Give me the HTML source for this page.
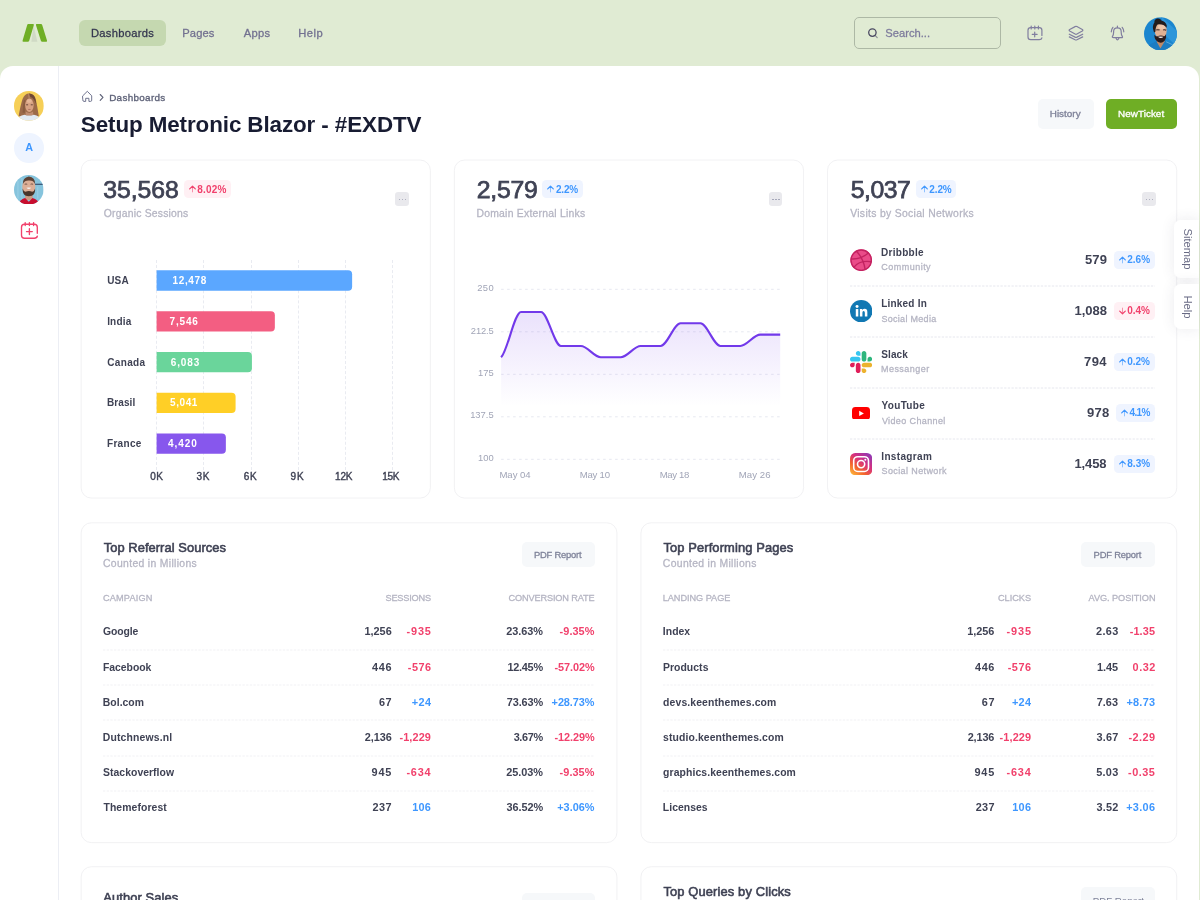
<!DOCTYPE html>
<html lang="en">
<head>
<meta charset="utf-8">
<title>Setup Metronic Blazor</title>
<style>
*{box-sizing:border-box;margin:0;padding:0}
html,body{width:1200px;height:900px;overflow:hidden}
body{background:#e0ebd3;font-family:"Liberation Sans",sans-serif;color:#3f4254;position:relative;-webkit-font-smoothing:antialiased}
.wrap{position:absolute;left:0;top:0;width:1200px;height:900px;overflow:hidden;will-change:transform}
.abs,.t{position:absolute;white-space:nowrap;line-height:1}
.t{font-size:10.4px}
.b{font-weight:700}
.m{-webkit-text-stroke:.28px currentColor}
.m2{-webkit-text-stroke:.38px currentColor}
.s3{font-weight:400;-webkit-text-stroke:.58px currentColor}
.s2{font-weight:400;-webkit-text-stroke:.33px currentColor}
.sb{font-weight:400;-webkit-text-stroke:.75px currentColor}
.panel{position:absolute;left:0;top:66px;width:1199px;height:840px;background:#fff;border-radius:13px 13px 0 0}
.sideline{position:absolute;left:58px;top:66px;width:1px;height:840px;background:#eceef4}
.card{position:absolute;background:#fff;border:1px solid #f3f3f5;border-radius:10.4px}
.pill{position:absolute;left:79px;top:20px;width:86.5px;height:26px;border-radius:6px;background:#c5d8b0}
.nav{font-size:11.2px;color:#77759b;top:27.5px}
.search{position:absolute;left:854px;top:17px;width:147px;height:32px;border:1px solid #adb8a5;border-radius:5px}
.btn{position:absolute;border-radius:5px;background:#f6f8fa}
.badge{position:absolute;border-radius:4.5px;height:17px}
.bl{background:#eff4ff;color:#3e97ff}
.rd{background:#fff0f4;color:#f1416c}
.dots{position:absolute;width:13.8px;height:14.4px;border-radius:3.2px;background:#e9e9ed}
.dots i{position:absolute;top:6.8px;width:1.4px;height:1.4px;border-radius:50%;background:#9d9fb3}
.g4{color:#b5b5c3}
.g5{color:#a1a5b7}
.g6{color:#7e8299}
.g8{color:#3f4254}
.red{color:#f1416c}
.blue{color:#3e97ff}
.dash{position:absolute;height:1px;overflow:visible}
</style>
</head>

<body>
<div class="wrap">


<!-- ============ HEADER ============ -->
<svg class="abs" style="left:20px;top:22px" width="30" height="22" viewBox="20 22 30 22">
  <path d="M33.5 25.4 L37.4 41.8 L31.4 41.8 Z" fill="#d0dac5"/>
  <path d="M28.3 24 H33 Q34.2 24 33.8 25.2 L29.2 40.8 Q28.9 41.8 27.8 41.8 H23.4 Q22.2 41.8 22.6 40.6 L27.2 24.9 Q27.4 24 28.3 24 Z" fill="#6fae25"/>
  <path d="M36.8 24 H41 Q41.9 24 42.2 24.9 L47 40.6 Q47.4 41.8 46.2 41.8 H42.2 Q41.2 41.8 40.9 40.8 L36 25.2 Q35.6 24 36.8 24 Z" fill="#6fae25"/>
</svg>

<div class="pill"></div>

<div class="search"></div>
<svg class="abs" style="left:866px;top:26px" width="14" height="14" viewBox="0 0 14 14" fill="none" stroke="#4b4a63" stroke-width="1.3" stroke-linecap="round"><circle cx="6.4" cy="6.6" r="3.7"/><path d="M9.3 9.6 L11.2 11.6" opacity=".55"/></svg>

<!-- ============ PANEL ============ -->
<div class="panel"></div>
<div class="sideline"></div>

<!-- header icons -->
<svg class="abs" style="left:1025px;top:23px" width="20" height="20" viewBox="1025 23 20 20" fill="none" stroke="#807e9f" stroke-width="1.2" stroke-linecap="round" stroke-linejoin="round">
  <path d="M1041.9 35.4 V30.3 Q1041.9 27.6 1039.2 27.6 H1030.7 Q1028 27.6 1028 30.3 V37 Q1028 39.7 1030.7 39.7 H1039.2 Q1041.6 39.7 1041.9 37.9"/>
  <path d="M1031.2 26.1 V28.9 M1034.8 26.1 V28.9 M1038.4 26.1 V28.9"/>
  <path d="M1032.3 34.4 H1037.1 M1034.7 32 V36.8"/>
</svg>
<svg class="abs" style="left:1066px;top:23px" width="20" height="20" viewBox="1066 23 20 20" fill="none" stroke="#807e9f" stroke-width="1.2" stroke-linecap="round" stroke-linejoin="round">
  <path d="M1075.1 26.6 Q1076 26.1 1076.9 26.6 L1082.3 29.5 Q1083.4 30.3 1082.3 31.1 L1076.9 34.1 Q1076 34.6 1075.1 34.1 L1069.7 31.1 Q1068.6 30.3 1069.7 29.5 Z"/>
  <path d="M1069.3 34.2 L1075.1 37.1 Q1076 37.5 1076.9 37.1 L1082.7 34.2"/>
  <path d="M1069.3 36.9 L1075.1 39.8 Q1076 40.2 1076.9 39.8 L1082.7 36.9"/>
</svg>
<svg class="abs" style="left:1107px;top:23px" width="20" height="20" viewBox="1107 23 20 20" fill="none" stroke="#807e9f" stroke-width="1.2" stroke-linecap="round" stroke-linejoin="round">
  <path d="M1117.4 26.1 V27.6"/>
  <path d="M1113.6 37.7 H1121.6 Q1122.9 37.7 1122.4 36.6 Q1121.2 34.8 1121.2 32.6 V31.6 Q1121.2 27.9 1117.4 27.9 Q1113.6 27.9 1113.6 31.6 V32.6 Q1113.6 34.8 1112.4 36.6 Q1111.9 37.7 1113.6 37.7 Z"/>
  <path d="M1116.1 38.2 Q1117.4 41.4 1118.8 38.2"/>
  <path d="M1112.9 27.3 Q1111.3 29.2 1111.3 31.8 M1122.2 27.3 Q1123.8 29.2 1123.8 31.8"/>
</svg>
<!-- header avatar -->
<svg class="abs" style="left:1144.1px;top:16.5px" width="33" height="33.4" viewBox="0 0 33 33">
  <defs><clipPath id="ca"><circle cx="16.5" cy="16.5" r="16.5"/></clipPath><filter id="fa" x="-10%" y="-10%" width="120%" height="120%"><feGaussianBlur stdDeviation="0.45"/></filter></defs>
  <g clip-path="url(#ca)">
    <rect width="33" height="33" fill="#1b86cf"/>
    <g filter="url(#fa)">
    <path d="M17 -1 L34 15 L34 30 L22 19 Z" fill="#2f96da"/>
    <path d="M1 33 Q3 27.5 9.5 25.5 L13 23.5 L16.4 29 L21 23 L25 25 Q31 27 33 33 Z" fill="#1a7cc2"/>
    <path d="M22 24.5 L30.5 28.5" stroke="#8fd0f0" stroke-width="0.7" opacity=".8"/>
    <path d="M12.4 21 L13 25 L16.4 31.2 L20.6 24.4 L20.4 20 Z" fill="#c08a68"/>
    <ellipse cx="16.7" cy="13.4" rx="6" ry="8" fill="#dfb194"/>
    <ellipse cx="17.6" cy="9.6" rx="3.6" ry="2.6" fill="#ecc6ab"/>
    <path d="M10 15.2 Q7.6 9 10.4 5.4 Q10 2.4 13 1.4 Q16.2 0.6 17.4 3.2 Q21.6 4.2 22.8 8.2 L22.6 10.6 Q19.6 6.6 13.6 7.2 Q11.4 9.4 11.4 14.6 Z" fill="#241a1f"/>
    <path d="M10.4 17.6 Q11.4 19.2 13 19.2 Q16.6 17.6 20.4 19 Q21.4 18.6 22 17 Q22.6 22 19.8 24.2 Q16.6 26.6 13.4 24.4 Q10.2 22 10.4 17.6 Z" fill="#2a1b1d"/>
    <path d="M13.8 19.6 Q16.8 18.8 19.6 19.6 Q16.8 22 13.8 19.6 Z" fill="#f4eeea"/>
    <path d="M12.2 12.9 Q13.8 12.1 15.6 12.9 M19.2 12.9 Q20.8 12.2 22.2 13.1" stroke="#3a2a2a" stroke-width="1.1" fill="none"/>
    </g>
  </g>
</svg>

<!-- ============ SIDEBAR ============ -->
<svg class="abs" style="left:14.1px;top:91.3px" width="29.8" height="29.8" viewBox="0 0 30 30">
  <defs><clipPath id="cb"><circle cx="15" cy="15" r="15"/></clipPath><filter id="fb" x="-10%" y="-10%" width="120%" height="120%"><feGaussianBlur stdDeviation="0.4"/></filter></defs>
  <g clip-path="url(#cb)">
    <rect width="30" height="30" fill="#f6cf57"/>
    <g filter="url(#fb)">
    <path d="M4.6 25.5 Q6.6 14 8.6 8 Q10.6 2.4 15.2 2.4 Q20.8 2.6 22 8.6 Q23.6 16 25 25.5 Z" fill="#9c6b4a"/>
    <path d="M15 2.6 Q20.6 2.8 21.6 8.6 L22.4 13 Q20 7 16.6 6 Q15.4 4.4 15 2.6 Z" fill="#6e4631"/>
    <path d="M10 9 Q9 14 8.6 22 L11 22 Q10.6 14 11.6 8.6 Z" fill="#8a5c40"/>
    <ellipse cx="15.5" cy="14.4" rx="4.2" ry="6.8" fill="#d8a283"/>
    <ellipse cx="15.4" cy="10" rx="2.6" ry="2" fill="#e6b697"/>
    <path d="M14.9 3 L15.3 8.4" stroke="#c89878" stroke-width="0.7"/>
    <path d="M12.2 13.9 H14.2 M16.9 13.9 H18.9" stroke="#5a3c30" stroke-width="0.9"/>
    <path d="M14.3 18.6 H16.7" stroke="#a86a5c" stroke-width="0.8"/>
    <path d="M11.8 20.6 Q15.4 23.6 19.2 20.6 L19.4 24.4 L11.6 24.4 Z" fill="#c08c70"/>
    <path d="M2.6 30 Q4.4 24.8 10.6 23.8 Q15.2 25.6 20 23.8 Q25.8 24.8 27.4 30 Z" fill="#e2eaf3"/>
    </g>
  </g>
</svg>
<div class="abs" style="left:14.2px;top:133px;width:29.6px;height:29.6px;border-radius:50%;background:#eef4ff"></div>
<div class="t b" id="sbA" style="left:25.2px;top:142px;font-size:10.8px;color:#3e97ff">A</div>
<svg class="abs" style="left:14.2px;top:174.5px" width="29.6" height="29.6" viewBox="0 0 30 30">
  <defs><clipPath id="cc"><circle cx="15" cy="15" r="15"/></clipPath><filter id="fc" x="-10%" y="-10%" width="120%" height="120%"><feGaussianBlur stdDeviation="0.4"/></filter></defs>
  <g clip-path="url(#cc)">
    <rect width="30" height="30" fill="#86c4dd"/>
    <g filter="url(#fc)">
    <rect x="21" y="8.8" width="9" height="1.3" fill="#3b5a7a"/>
    <path d="M4 6 V24 M8 3 V26 M24 12 V24" stroke="#9fd2e6" stroke-width="1.2" opacity=".7"/>
    <path d="M11.4 19 H18.8 L19 25.4 H11.2 Z" fill="#c99a82"/>
    <path d="M4.4 30 Q5.6 25 11.2 23.4 L15 27 L18.8 23.4 Q24.6 25 26 30 Z" fill="#c8102e"/>
    <ellipse cx="15" cy="12" rx="6.6" ry="8.4" fill="#dcae96"/>
    <path d="M9 9 Q8.6 2.6 15 1.4 Q21.6 2.4 21.4 9 Q19.6 5.4 15.2 5.6 Q10.8 5.4 9 9 Z" fill="#5d4335"/>
    <path d="M8.8 13.6 Q9.6 16.6 11.6 17 Q15 15.4 18.6 17 Q20.6 16.6 21.4 13.6 Q21.8 19.4 18 21 Q15 22 12 21 Q8.4 19.4 8.8 13.6 Z" fill="#4a362c"/>
    <path d="M12.6 13 Q15 12.2 17.4 13 Q15 15.4 12.6 13 Z" fill="#f7f2f0"/>
    <path d="M10.8 9.4 Q12.2 8.8 13.4 9.4 M16.8 9.4 Q18 8.8 19.4 9.4" stroke="#5a4034" stroke-width="0.8" fill="none"/>
    </g>
  </g>
</svg>
<svg class="abs" style="left:18px;top:219px" width="23" height="23" viewBox="18 219 23 23" fill="none" stroke="#f1416c" stroke-width="1.35" stroke-linecap="round" stroke-linejoin="round">
  <path d="M37.3 233.2 V227.2 Q37.3 224.2 34.3 224.2 H24.5 Q21.5 224.2 21.5 227.2 V235.2 Q21.5 238.2 24.5 238.2 H34.3 Q37 238.2 37.3 236.2"/>
  <path d="M25.2 222.6 V225.6 M29.4 222.6 V225.6 M33.6 222.6 V225.6"/>
  <path d="M26.5 231.6 H32.3 M29.4 228.7 V234.5"/>
</svg>

<!-- ============ PAGE HEAD ============ -->
<svg class="abs" style="left:80px;top:89px" width="14" height="15" viewBox="80 89 14 15" fill="none" stroke="#6f738e" stroke-width="1" stroke-linejoin="round" stroke-linecap="round">
  <path d="M82.8 95.8 L87.3 91.3 L91.7 95.8 V100.2 Q91.7 101.4 90.5 101.4 H88.9 V98.3 H85.7 V101.4 H84 Q82.8 101.4 82.8 100.2 Z"/>
</svg>
<svg class="abs" style="left:97px;top:92px" width="8" height="11" viewBox="0 0 8 11" fill="none" stroke="#5e6278" stroke-width="1.1" stroke-linecap="round" stroke-linejoin="round"><path d="M3.2 2.5 L6 5.4 L3.2 8.3"/></svg>
<div class="btn" style="left:1037.6px;top:99px;width:56.8px;height:29.5px"></div>
<div class="btn" style="left:1105.8px;top:99px;width:71.4px;height:29.5px;background:#6fae25"></div>

<!-- side tabs -->
<div class="abs" style="left:1174px;top:220px;width:25px;height:58px;border-radius:6.5px 0 0 6.5px;background:#fff;z-index:5;box-shadow:0 0 14px rgba(60,60,90,.10)"></div>
<div class="abs" style="left:1174px;top:283.8px;width:25px;height:45.6px;border-radius:6.5px 0 0 6.5px;background:#fff;z-index:5;box-shadow:0 0 14px rgba(60,60,90,.10)"></div>
<div class="t" id="tab1" style="left:1186.6px;top:249.2px;font-size:11.2px;color:#686a84;z-index:6;transform:translate(-50%,-50%) rotate(90deg)">Sitemap</div>
<div class="t" id="tab2" style="left:1186.6px;top:306.8px;font-size:11.2px;color:#686a84;z-index:6;transform:translate(-50%,-50%) rotate(90deg)">Help</div>


<div class="t m" id="n1" style="top:28.00px;font-size:11.2px;left:90.96000000000001px;letter-spacing:0.283px;color:#34364f;">Dashboards</div>
<div class="t m" id="n2" style="top:28.00px;font-size:11.2px;left:182.28px;letter-spacing:0.100px;color:#727090;">Pages</div>
<div class="t m" id="n3" style="top:28.00px;font-size:11.2px;left:243.86999999999998px;letter-spacing:0.283px;color:#727090;">Apps</div>
<div class="t m" id="n4" style="top:28.00px;font-size:11.2px;left:298.26px;letter-spacing:0.468px;color:#727090;">Help</div>
<div class="t m" id="srch" style="top:28.00px;font-size:11.2px;left:885.26px;letter-spacing:0.004px;color:#7d7b9c;">Search...</div>
<div class="t s2" id="bc" style="top:93.00px;font-size:9.9px;left:109.13000000000001px;letter-spacing:0.322px;color:#5e6278;">Dashboards</div>
<div class="t b" id="title" style="top:114.00px;font-size:22.4px;left:80.85000000000001px;letter-spacing:-0.094px;color:#181c32;">Setup Metronic Blazor - #EXDTV</div>
<div class="t s2" id="hist" style="top:109.00px;font-size:9.9px;left:1049.74px;letter-spacing:0.027px;color:#7e8299;">History</div>
<div class="t s2" id="newt" style="top:109.00px;font-size:9.9px;left:1118.02px;letter-spacing:0.052px;color:#fff;">NewTicket</div>
<svg class="abs" style="left:0;top:0" width="1200" height="900" viewBox="0 0 1200 900">
<rect x="81.15" y="160.05" width="349.20" height="338.00" rx="10.2" fill="#fff" stroke="#efeff1" stroke-width="0.85"/>
<rect x="454.35" y="160.05" width="349.20" height="338.00" rx="10.2" fill="#fff" stroke="#efeff1" stroke-width="0.85"/>
<rect x="827.55" y="160.05" width="349.20" height="338.00" rx="10.2" fill="#fff" stroke="#efeff1" stroke-width="0.85"/>
<rect x="81.15" y="522.80" width="535.80" height="319.80" rx="10.2" fill="#fff" stroke="#efeff1" stroke-width="0.85"/>
<rect x="81.15" y="866.75" width="535.80" height="93.25" rx="10.2" fill="#fff" stroke="#efeff1" stroke-width="0.85"/>
<rect x="640.95" y="522.80" width="535.80" height="319.80" rx="10.2" fill="#fff" stroke="#efeff1" stroke-width="0.85"/>
<rect x="640.95" y="866.75" width="535.80" height="93.25" rx="10.2" fill="#fff" stroke="#efeff1" stroke-width="0.85"/>
</svg>
<div class="t sb g8" id="k1" style="top:178.00px;font-size:24.8px;left:103.35px;letter-spacing:-0.080px;">35,568</div>
<div class="badge rd" style="left:184.2px;top:180.3px;width:46.8px;height:17.7px"></div>
<svg class="abs" style="left:188.6px;top:185.2px" width="7" height="8" viewBox="0 0 7 8" fill="none" stroke="#f1416c" stroke-linecap="round" stroke-linejoin="round"><path d="M3.5 6.9 V1.8" stroke-width="1" opacity=".55"/><path d="M0.7 3.9 L3.5 1.2 L6.3 3.9" stroke-width="1.2"/></svg>
<div class="t b" id="k1b" style="top:185.00px;font-size:10.0px;left:197.3px;letter-spacing:0.188px;color:#f1416c;">8.02%</div>
<div class="t m g4" id="k1s" style="top:209.00px;font-size:10.4px;left:103.77000000000001px;letter-spacing:0.200px;">Organic Sessions</div>
<div class="dots" style="left:395.3px;top:192px"><i style="left:3.8px"></i><i style="left:6.7px"></i><i style="left:9.7px"></i></div>
<div class="t sb g8" id="k2" style="top:178.00px;font-size:24.8px;left:476.84999999999997px;letter-spacing:-0.291px;">2,579</div>
<div class="badge bl" style="left:542.2px;top:180.3px;width:40.8px;height:17.7px"></div>
<svg class="abs" style="left:547.2px;top:185.2px" width="7" height="8" viewBox="0 0 7 8" fill="none" stroke="#3e97ff" stroke-linecap="round" stroke-linejoin="round"><path d="M3.5 6.9 V1.8" stroke-width="1" opacity=".55"/><path d="M0.7 3.9 L3.5 1.2 L6.3 3.9" stroke-width="1.2"/></svg>
<div class="t b" id="k2b" style="top:185.00px;font-size:10.0px;left:555.8900000000001px;letter-spacing:-0.149px;color:#3e97ff;">2.2%</div>
<div class="t m g4" id="k2s" style="top:209.00px;font-size:10.4px;left:476.45px;letter-spacing:0.237px;">Domain External Links</div>
<div class="dots" style="left:768.6px;top:192px"><i style="left:3.8px"></i><i style="left:6.7px"></i><i style="left:9.7px"></i></div>
<div class="t sb g8" id="k3" style="top:178.00px;font-size:24.8px;left:850.8px;letter-spacing:-0.540px;">5,037</div>
<div class="badge bl" style="left:915.5px;top:180.3px;width:40.8px;height:17.7px"></div>
<svg class="abs" style="left:920.5px;top:185.2px" width="7" height="8" viewBox="0 0 7 8" fill="none" stroke="#3e97ff" stroke-linecap="round" stroke-linejoin="round"><path d="M3.5 6.9 V1.8" stroke-width="1" opacity=".55"/><path d="M0.7 3.9 L3.5 1.2 L6.3 3.9" stroke-width="1.2"/></svg>
<div class="t b" id="k3b" style="top:185.00px;font-size:10.0px;left:929.36px;letter-spacing:-0.161px;color:#3e97ff;">2.2%</div>
<div class="t m g4" id="k3s" style="top:209.00px;font-size:10.4px;left:850.18px;letter-spacing:0.319px;">Visits by Social Networks</div>
<div class="dots" style="left:1142px;top:192px"><i style="left:3.8px"></i><i style="left:6.7px"></i><i style="left:9.7px"></i></div>
<div class="abs" style="left:156.1px;top:259.5px;width:0;height:210px;border-left:1px dashed #e9ebf1"></div>
<div class="abs" style="left:203.3px;top:259.5px;width:0;height:210px;border-left:1px dashed #e9ebf1"></div>
<div class="abs" style="left:250.5px;top:259.5px;width:0;height:210px;border-left:1px dashed #e9ebf1"></div>
<div class="abs" style="left:297.7px;top:259.5px;width:0;height:210px;border-left:1px dashed #e9ebf1"></div>
<div class="abs" style="left:344.9px;top:259.5px;width:0;height:210px;border-left:1px dashed #e9ebf1"></div>
<div class="abs" style="left:392.1px;top:259.5px;width:0;height:210px;border-left:1px dashed #e9ebf1"></div>
<svg class="abs" style="left:150px;top:268px" width="220" height="26" viewBox="150 268 220 26"><path d="M156.6 270.35 H348.13 Q352.13 270.35 352.13 274.35 V286.65 Q352.13 290.65 348.13 290.65 H156.6 Z" fill="#5ba7ff"/></svg>
<div class="t b g8" id="bl0" style="top:276.00px;font-size:10.0px;left:107.15px;letter-spacing:0.250px;">USA</div>
<div class="t b" id="bv0" style="top:276.00px;font-size:10.0px;left:172.39px;letter-spacing:0.690px;color:#fff;">12,478</div>
<svg class="abs" style="left:150px;top:309px" width="220" height="26" viewBox="150 309 220 26"><path d="M156.6 311.15 H270.85 Q274.85 311.15 274.85 315.15 V327.45 Q274.85 331.45 270.85 331.45 H156.6 Z" fill="#f35e82"/></svg>
<div class="t b g8" id="bl1" style="top:317.00px;font-size:10.0px;left:107.14px;letter-spacing:0.207px;">India</div>
<div class="t b" id="bv1" style="top:317.00px;font-size:10.0px;left:169.55px;letter-spacing:0.814px;color:#fff;">7,546</div>
<svg class="abs" style="left:150px;top:349px" width="220" height="26" viewBox="150 349 220 26"><path d="M156.6 351.95 H247.92 Q251.92 351.95 251.92 355.95 V368.25 Q251.92 372.25 247.92 372.25 H156.6 Z" fill="#6ad59b"/></svg>
<div class="t b g8" id="bl2" style="top:358.00px;font-size:10.0px;left:107.28px;letter-spacing:0.340px;">Canada</div>
<div class="t b" id="bv2" style="top:358.00px;font-size:10.0px;left:170.70000000000002px;letter-spacing:0.900px;color:#fff;">6,083</div>
<svg class="abs" style="left:150px;top:390px" width="220" height="26" viewBox="150 390 220 26"><path d="M156.6 392.75 H231.59 Q235.59 392.75 235.59 396.75 V409.05 Q235.59 413.05 231.59 413.05 H156.6 Z" fill="#ffcf26"/></svg>
<div class="t b g8" id="bl3" style="top:398.00px;font-size:10.0px;left:107.03px;letter-spacing:0.090px;">Brasil</div>
<div class="t b" id="bv3" style="top:398.00px;font-size:10.0px;left:170.06px;letter-spacing:0.583px;color:#fff;">5,041</div>
<svg class="abs" style="left:150px;top:431px" width="220" height="26" viewBox="150 431 220 26"><path d="M156.6 433.55 H221.86 Q225.86 433.55 225.86 437.55 V449.85 Q225.86 453.85 221.86 453.85 H156.6 Z" fill="#8757ed"/></svg>
<div class="t b g8" id="bl4" style="top:439.00px;font-size:10.0px;left:106.94000000000001px;letter-spacing:0.340px;">France</div>
<div class="t b" id="bv4" style="top:439.00px;font-size:10.0px;left:168.10999999999999px;letter-spacing:0.900px;color:#fff;">4,420</div>
<div class="t m2 g8" id="bx0" style="top:472.00px;font-size:10.0px;left:156.88px;transform:translateX(-50%);letter-spacing:0.550px;">0K</div>
<div class="t m2 g8" id="bx1" style="top:472.00px;font-size:10.0px;left:203.28px;transform:translateX(-50%);letter-spacing:0.550px;">3K</div>
<div class="t m2 g8" id="bx2" style="top:472.00px;font-size:10.0px;left:250.50px;transform:translateX(-50%);letter-spacing:0.700px;">6K</div>
<div class="t m2 g8" id="bx3" style="top:472.00px;font-size:10.0px;left:297.45px;transform:translateX(-50%);letter-spacing:0.900px;">9K</div>
<div class="t m2 g8" id="bx4" style="top:472.00px;font-size:10.0px;left:343.70px;transform:translateX(-50%);letter-spacing:-0.075px;">12K</div>
<div class="t m2 g8" id="bx5" style="top:472.00px;font-size:10.0px;left:390.78px;transform:translateX(-50%);letter-spacing:-0.240px;">15K</div>
<svg class="abs" style="left:455px;top:270px" width="348" height="220" viewBox="455 270 348 220">
<defs><linearGradient id="lg" gradientUnits="userSpaceOnUse" x1="0" y1="312.0" x2="0" y2="459.3"><stop offset="0" stop-color="#7239ea" stop-opacity="0.15"/><stop offset="0.64" stop-color="#7239ea" stop-opacity="0"/><stop offset="1" stop-color="#7239ea" stop-opacity="0"/></linearGradient></defs>
<path d="M501.1 289.3 H780.2" stroke="#e6e8f0" stroke-width="1" stroke-dasharray="2.6 3.4" fill="none"/>
<path d="M501.1 331.8 H780.2" stroke="#e6e8f0" stroke-width="1" stroke-dasharray="2.6 3.4" fill="none"/>
<path d="M501.1 374.3 H780.2" stroke="#e6e8f0" stroke-width="1" stroke-dasharray="2.6 3.4" fill="none"/>
<path d="M501.1 416.8 H780.2" stroke="#e6e8f0" stroke-width="1" stroke-dasharray="2.6 3.4" fill="none"/>
<path d="M501.1 459.3 H780.2" stroke="#e6e8f0" stroke-width="1" stroke-dasharray="2.6 3.4" fill="none"/>
<path d="M501.10 357.30 C507.75 350.95 514.39 311.97 521.04 311.97 C527.68 311.97 534.33 311.97 540.97 311.97 C547.62 311.97 554.26 345.97 560.91 345.97 C567.55 345.97 574.20 345.97 580.84 345.97 C587.49 345.97 594.13 357.30 600.78 357.30 C607.42 357.30 614.07 357.30 620.71 357.30 C627.36 357.30 634.00 345.97 640.65 345.97 C647.30 345.97 653.94 345.97 660.59 345.97 C667.23 345.97 673.88 323.30 680.52 323.30 C687.17 323.30 693.81 323.30 700.46 323.30 C707.10 323.30 713.75 345.97 720.39 345.97 C727.04 345.97 733.68 345.97 740.33 345.97 C746.97 345.97 753.62 334.63 760.26 334.63 C766.91 334.63 773.55 334.63 780.20 334.63 L780.20 459.30 L501.10 459.30 Z" fill="url(#lg)"/>
<path d="M501.10 357.30 C507.75 350.95 514.39 311.97 521.04 311.97 C527.68 311.97 534.33 311.97 540.97 311.97 C547.62 311.97 554.26 345.97 560.91 345.97 C567.55 345.97 574.20 345.97 580.84 345.97 C587.49 345.97 594.13 357.30 600.78 357.30 C607.42 357.30 614.07 357.30 620.71 357.30 C627.36 357.30 634.00 345.97 640.65 345.97 C647.30 345.97 653.94 345.97 660.59 345.97 C667.23 345.97 673.88 323.30 680.52 323.30 C687.17 323.30 693.81 323.30 700.46 323.30 C707.10 323.30 713.75 345.97 720.39 345.97 C727.04 345.97 733.68 345.97 740.33 345.97 C746.97 345.97 753.62 334.63 760.26 334.63 C766.91 334.63 773.55 334.63 780.20 334.63" fill="none" stroke="#7239ea" stroke-width="2.1" stroke-linecap="butt" stroke-linejoin="round"/>
</svg>
<div class="t g5" id="ly0" style="top:283.00px;font-size:9.4px;right:705.88px;letter-spacing:0.425px;">250</div>
<div class="t g5" id="ly1" style="top:326.00px;font-size:9.4px;right:706.39px;letter-spacing:-0.139px;">212.5</div>
<div class="t g5" id="ly2" style="top:368.00px;font-size:9.4px;right:706.40px;">175</div>
<div class="t g5" id="ly3" style="top:410.00px;font-size:9.4px;right:706.40px;">137.5</div>
<div class="t g5" id="ly4" style="top:453.00px;font-size:9.4px;right:706.40px;">100</div>
<div class="t g5" id="lx0" style="top:470.00px;font-size:9.6px;left:499.45px;letter-spacing:-0.060px;">May 04</div>
<div class="t g5" id="lx1" style="top:470.00px;font-size:9.6px;left:579.66px;letter-spacing:-0.220px;">May 10</div>
<div class="t g5" id="lx2" style="top:470.00px;font-size:9.6px;left:659.65px;letter-spacing:-0.370px;">May 18</div>
<div class="t g5" id="lx3" style="top:470.00px;font-size:9.6px;left:738.75px;letter-spacing:0.060px;">May 26</div>
<svg class="abs" style="left:850.0px;top:248.7px" width="22.4" height="22.4" viewBox="0 0 24 24"><circle cx="12" cy="12" r="11.6" fill="#ea4c89"/><g fill="none" stroke="#c32361" stroke-width="1.5" stroke-linecap="round"><circle cx="12" cy="12" r="10.9"/><path d="M7.2 2.6 Q14.5 10.5 16.2 21.8"/><path d="M1.3 10.6 Q12 11.2 19.6 4.3"/><path d="M4.3 19.4 Q10.5 11.8 22.7 13.6"/></g></svg>
<div class="t b g8" id="sn0" style="top:248.00px;font-size:10.0px;left:881.02px;letter-spacing:0.284px;">Dribbble</div>
<div class="t m g4" id="ss0" style="top:263.00px;font-size:9.0px;left:881.34px;letter-spacing:0.471px;">Community</div>
<div class="t b g8" id="sv0" style="top:253.00px;font-size:13.0px;right:92.88px;letter-spacing:0.175px;">579</div>
<div class="badge bl" style="left:1113.7px;top:251.09999999999997px;width:41.5px;height:17.5px"></div>
<svg class="abs" style="left:1118.7px;top:255.8px" width="7" height="8" viewBox="0 0 7 8" fill="none" stroke="#3e97ff" stroke-linecap="round" stroke-linejoin="round"><path d="M3.5 6.9 V1.8" stroke-width="1" opacity=".55"/><path d="M0.7 3.9 L3.5 1.2 L6.3 3.9" stroke-width="1.2"/></svg>
<div class="t b" id="sb0" style="top:255.00px;font-size:10.0px;left:1127.17px;letter-spacing:0.033px;color:#3e97ff;">2.6%</div>
<svg class="abs" style="left:850px;top:284.50px" width="305.2" height="2" viewBox="0 0 305.2 2"><path d="M0 1 H305.2" stroke="#dfe1ea" stroke-width="0.8" stroke-dasharray="2.3 1.37" fill="none"/></svg>
<svg class="abs" style="left:850.0px;top:299.7px" width="22.4" height="22.4" viewBox="0 0 24 24"><circle cx="12" cy="12" r="12" fill="#1178b3"/><g fill="#fff"><rect x="6.2" y="9.7" width="2.7" height="8"/><circle cx="7.55" cy="6.9" r="1.6"/><path d="M10.6 9.7 H13.2 V10.9 Q14 9.5 15.8 9.5 Q18.6 9.5 18.6 13 V17.7 H15.9 V13.6 Q15.9 11.8 14.6 11.8 Q13.3 11.8 13.3 13.6 V17.7 H10.6 Z"/></g></svg>
<div class="t b g8" id="sn1" style="top:299.00px;font-size:10.0px;left:881.14px;letter-spacing:0.221px;">Linked In</div>
<div class="t m g4" id="ss1" style="top:315.00px;font-size:9.0px;left:881.42px;letter-spacing:0.299px;">Social Media</div>
<div class="t b g8" id="sv1" style="top:304.00px;font-size:13.0px;right:92.95px;letter-spacing:-0.002px;">1,088</div>
<div class="badge rd" style="left:1113.7px;top:302.09999999999997px;width:41.5px;height:17.5px"></div>
<svg class="abs" style="left:1118.7px;top:306.8px" width="7" height="8" viewBox="0 0 7 8" fill="none" stroke="#f1416c" stroke-linecap="round" stroke-linejoin="round"><path d="M3.5 1.1 V6.2" stroke-width="1" opacity=".55"/><path d="M0.7 4.1 L3.5 6.8 L6.3 4.1" stroke-width="1.2"/></svg>
<div class="t b" id="sb1" style="top:306.00px;font-size:10.0px;left:1127.21px;letter-spacing:-0.017px;color:#f1416c;">0.4%</div>
<svg class="abs" style="left:850px;top:335.50px" width="305.2" height="2" viewBox="0 0 305.2 2"><path d="M0 1 H305.2" stroke="#dfe1ea" stroke-width="0.8" stroke-dasharray="2.3 1.37" fill="none"/></svg>
<svg class="abs" style="left:850.1px;top:350.9px" width="22.2" height="22.2" viewBox="0 0 122.8 122.8"><path d="M25.8 77.6c0 7.1-5.8 12.9-12.9 12.9S0 84.7 0 77.6s5.8-12.9 12.9-12.9h12.9v12.9zm6.5 0c0-7.1 5.8-12.9 12.9-12.9s12.9 5.8 12.9 12.9v32.3c0 7.1-5.8 12.9-12.9 12.9s-12.9-5.8-12.9-12.9V77.6z" fill="#e01e5a"/><path d="M45.2 25.8c-7.1 0-12.9-5.8-12.9-12.9S38.1 0 45.2 0s12.9 5.8 12.9 12.9v12.9H45.2zm0 6.5c7.1 0 12.9 5.8 12.9 12.9s-5.8 12.9-12.9 12.9H12.9C5.8 58.1 0 52.3 0 45.2s5.8-12.9 12.9-12.9h32.3z" fill="#36c5f0"/><path d="M97 45.2c0-7.1 5.8-12.9 12.9-12.9s12.9 5.8 12.9 12.9-5.8 12.9-12.9 12.9H97V45.2zm-6.5 0c0 7.1-5.8 12.9-12.9 12.9s-12.9-5.8-12.9-12.9V12.9C64.7 5.8 70.5 0 77.6 0s12.9 5.8 12.9 12.9v32.3z" fill="#2eb67d"/><path d="M77.6 97c7.1 0 12.9 5.8 12.9 12.9s-5.8 12.9-12.9 12.9-12.9-5.8-12.9-12.9V97h12.9zm0-6.5c-7.1 0-12.9-5.8-12.9-12.9s5.8-12.9 12.9-12.9h32.3c7.1 0 12.9 5.8 12.9 12.9s-5.8 12.9-12.9 12.9H77.6z" fill="#ecb22e"/></svg>
<div class="t b g8" id="sn2" style="top:350.00px;font-size:10.0px;left:881.1999999999999px;letter-spacing:0.123px;">Slack</div>
<div class="t m g4" id="ss2" style="top:365.00px;font-size:9.0px;left:880.9599999999999px;letter-spacing:0.471px;">Messanger</div>
<div class="t b g8" id="sv2" style="top:355.00px;font-size:13.0px;right:93.00px;letter-spacing:0.400px;">794</div>
<div class="badge bl" style="left:1113.7px;top:353.09999999999997px;width:41.5px;height:17.5px"></div>
<svg class="abs" style="left:1118.7px;top:357.8px" width="7" height="8" viewBox="0 0 7 8" fill="none" stroke="#3e97ff" stroke-linecap="round" stroke-linejoin="round"><path d="M3.5 6.9 V1.8" stroke-width="1" opacity=".55"/><path d="M0.7 3.9 L3.5 1.2 L6.3 3.9" stroke-width="1.2"/></svg>
<div class="t b" id="sb2" style="top:357.00px;font-size:10.0px;left:1127.21px;letter-spacing:-0.017px;color:#3e97ff;">0.2%</div>
<svg class="abs" style="left:850px;top:386.50px" width="305.2" height="2" viewBox="0 0 305.2 2"><path d="M0 1 H305.2" stroke="#dfe1ea" stroke-width="0.8" stroke-dasharray="2.3 1.37" fill="none"/></svg>
<svg class="abs" style="left:852.2px;top:406.5px" width="18" height="12.8" viewBox="0 0 18 12.8"><rect width="18" height="12.8" rx="3.4" fill="#ff0000"/><path d="M7.2 3.7 L11.9 6.4 L7.2 9.1 Z" fill="#fff"/></svg>
<div class="t b g8" id="sn3" style="top:401.00px;font-size:10.0px;left:881.5px;letter-spacing:0.334px;">YouTube</div>
<div class="t m g4" id="ss3" style="top:417.00px;font-size:9.0px;left:881.92px;letter-spacing:0.374px;">Video Channel</div>
<div class="t b g8" id="sv3" style="top:406.00px;font-size:13.0px;right:90.60px;letter-spacing:0.250px;">978</div>
<div class="badge bl" style="left:1116.0px;top:404.09999999999997px;width:39.2px;height:17.5px"></div>
<svg class="abs" style="left:1121.0px;top:408.8px" width="7" height="8" viewBox="0 0 7 8" fill="none" stroke="#3e97ff" stroke-linecap="round" stroke-linejoin="round"><path d="M3.5 6.9 V1.8" stroke-width="1" opacity=".55"/><path d="M0.7 3.9 L3.5 1.2 L6.3 3.9" stroke-width="1.2"/></svg>
<div class="t b" id="sb3" style="top:408.00px;font-size:10.0px;left:1129.44px;letter-spacing:-0.600px;color:#3e97ff;">4.1%</div>
<svg class="abs" style="left:850px;top:437.50px" width="305.2" height="2" viewBox="0 0 305.2 2"><path d="M0 1 H305.2" stroke="#dfe1ea" stroke-width="0.8" stroke-dasharray="2.3 1.37" fill="none"/></svg>
<svg class="abs" style="left:850.1px;top:452.79999999999995px" width="22.2" height="22.2" viewBox="0 0 24 24"><defs><linearGradient id="ig" x1="0.1" y1="1" x2="0.9" y2="0"><stop offset="0" stop-color="#fdb73b"/><stop offset="0.3" stop-color="#f4652c"/><stop offset="0.6" stop-color="#d62f7f"/><stop offset="1" stop-color="#8a3ab9"/></linearGradient></defs><rect width="24" height="24" rx="5.6" fill="url(#ig)"/><rect x="4" y="4" width="16" height="16" rx="4.4" fill="none" stroke="#fff" stroke-width="1.7"/><circle cx="12" cy="12" r="3.9" fill="none" stroke="#fff" stroke-width="1.7"/><circle cx="16.6" cy="7.4" r="1.1" fill="#fff"/></svg>
<div class="t b g8" id="sn4" style="top:452.00px;font-size:10.0px;left:881.3px;letter-spacing:0.344px;">Instagram</div>
<div class="t m g4" id="ss4" style="top:467.00px;font-size:9.0px;left:881.5699999999999px;letter-spacing:0.383px;">Social Network</div>
<div class="t b g8" id="sv4" style="top:457.00px;font-size:13.0px;right:93.49px;letter-spacing:-0.085px;">1,458</div>
<div class="badge bl" style="left:1114.0px;top:455.09999999999997px;width:41.2px;height:17.5px"></div>
<svg class="abs" style="left:1119.0px;top:459.8px" width="7" height="8" viewBox="0 0 7 8" fill="none" stroke="#3e97ff" stroke-linecap="round" stroke-linejoin="round"><path d="M3.5 6.9 V1.8" stroke-width="1" opacity=".55"/><path d="M0.7 3.9 L3.5 1.2 L6.3 3.9" stroke-width="1.2"/></svg>
<div class="t b" id="sb4" style="top:459.00px;font-size:10.0px;left:1127.23px;letter-spacing:0.053px;color:#3e97ff;">8.3%</div>
<div class="t s3 g8" id="ati" style="top:542.00px;font-size:12.9px;left:103.69px;letter-spacing:0.060px;">Top Referral Sources</div>
<div class="t m g4" id="asu" style="top:559.00px;font-size:10.4px;left:103.02px;letter-spacing:0.332px;">Counted in Millions</div>
<div class="btn" style="left:521.8px;top:542.1px;width:73.0px;height:25.4px"></div>
<div class="t m g6" id="abt" style="top:550.00px;font-size:9.4px;left:557.63px;transform:translateX(-50%);letter-spacing:-0.207px;">PDF Report</div>
<div class="t m g4" id="ah0" style="top:594.00px;font-size:9.2px;left:102.98px;letter-spacing:0.158px;">CAMPAIGN</div>
<div class="t m g4" id="ah1" style="top:594.00px;font-size:9.2px;right:769.21px;letter-spacing:-0.214px;">SESSIONS</div>
<div class="t m g4" id="ah2" style="top:594.00px;font-size:9.2px;right:605.44px;letter-spacing:-0.135px;">CONVERSION RATE</div>
<div class="t b g8" id="an0" style="top:627.00px;font-size:10.4px;left:103.10000000000001px;letter-spacing:-0.110px;">Google</div>
<div class="t b g8" id="av0" style="top:626.00px;font-size:10.9px;right:808.33px;letter-spacing:-0.031px;">1,256</div>
<div class="t b red" id="ad0" style="top:626.00px;font-size:10.9px;right:768.20px;letter-spacing:0.899px;">-935</div>
<div class="t b g8" id="ap0" style="top:626.00px;font-size:10.9px;right:657.07px;letter-spacing:-0.060px;">23.63%</div>
<div class="t b red" id="aq0" style="top:626.00px;font-size:10.9px;right:605.56px;letter-spacing:0.060px;">-9.35%</div>
<svg class="abs" style="left:103.2px;top:648.50px" width="491.4" height="2" viewBox="0 0 491.4 2"><path d="M0 1 H491.4" stroke="#ededf1" stroke-width="0.8" stroke-dasharray="2.3 1.37" fill="none"/></svg>
<div class="t b g8" id="an1" style="top:663.00px;font-size:10.4px;left:102.9px;">Facebook</div>
<div class="t b g8" id="av1" style="top:662.00px;font-size:10.9px;right:807.60px;letter-spacing:0.725px;">446</div>
<div class="t b red" id="ad1" style="top:662.00px;font-size:10.9px;right:768.55px;letter-spacing:0.447px;">-576</div>
<div class="t b g8" id="ap1" style="top:662.00px;font-size:10.9px;right:657.15px;letter-spacing:-0.250px;">12.45%</div>
<div class="t b red" id="aq1" style="top:662.00px;font-size:10.9px;right:605.53px;letter-spacing:-0.083px;">-57.02%</div>
<svg class="abs" style="left:103.2px;top:683.50px" width="491.4" height="2" viewBox="0 0 491.4 2"><path d="M0 1 H491.4" stroke="#ededf1" stroke-width="0.8" stroke-dasharray="2.3 1.37" fill="none"/></svg>
<div class="t b g8" id="an2" style="top:698.00px;font-size:10.4px;left:102.83px;letter-spacing:0.021px;">Bol.com</div>
<div class="t b g8" id="av2" style="top:697.00px;font-size:10.9px;right:807.80px;letter-spacing:0.600px;">67</div>
<div class="t b blue" id="ad2" style="top:697.00px;font-size:10.9px;right:768.55px;letter-spacing:0.450px;">+24</div>
<div class="t b g8" id="ap2" style="top:697.00px;font-size:10.9px;right:657.02px;letter-spacing:-0.120px;">73.63%</div>
<div class="t b blue" id="aq2" style="top:697.00px;font-size:10.9px;right:605.57px;letter-spacing:-0.063px;">+28.73%</div>
<svg class="abs" style="left:103.2px;top:718.50px" width="491.4" height="2" viewBox="0 0 491.4 2"><path d="M0 1 H491.4" stroke="#ededf1" stroke-width="0.8" stroke-dasharray="2.3 1.37" fill="none"/></svg>
<div class="t b g8" id="an3" style="top:733.00px;font-size:10.4px;left:102.83px;letter-spacing:0.153px;">Dutchnews.nl</div>
<div class="t b g8" id="av3" style="top:732.00px;font-size:10.9px;right:808.39px;letter-spacing:-0.092px;">2,136</div>
<div class="t b red" id="ad3" style="top:732.00px;font-size:10.9px;right:769.02px;letter-spacing:0.110px;">-1,229</div>
<div class="t b g8" id="ap3" style="top:732.00px;font-size:10.9px;right:657.15px;letter-spacing:-0.332px;">3.67%</div>
<div class="t b red" id="aq3" style="top:732.00px;font-size:10.9px;right:605.53px;letter-spacing:-0.083px;">-12.29%</div>
<svg class="abs" style="left:103.2px;top:754.50px" width="491.4" height="2" viewBox="0 0 491.4 2"><path d="M0 1 H491.4" stroke="#ededf1" stroke-width="0.8" stroke-dasharray="2.3 1.37" fill="none"/></svg>
<div class="t b g8" id="an4" style="top:768.00px;font-size:10.4px;left:103.09px;letter-spacing:0.041px;">Stackoverflow</div>
<div class="t b g8" id="av4" style="top:767.00px;font-size:10.9px;right:807.73px;letter-spacing:0.850px;">945</div>
<div class="t b red" id="ad4" style="top:767.00px;font-size:10.9px;right:768.69px;letter-spacing:0.771px;">-634</div>
<div class="t b g8" id="ap4" style="top:767.00px;font-size:10.9px;right:657.07px;letter-spacing:-0.060px;">25.03%</div>
<div class="t b red" id="aq4" style="top:767.00px;font-size:10.9px;right:605.56px;letter-spacing:0.060px;">-9.35%</div>
<svg class="abs" style="left:103.2px;top:789.50px" width="491.4" height="2" viewBox="0 0 491.4 2"><path d="M0 1 H491.4" stroke="#ededf1" stroke-width="0.8" stroke-dasharray="2.3 1.37" fill="none"/></svg>
<div class="t b g8" id="an5" style="top:803.00px;font-size:10.4px;left:103.44px;letter-spacing:0.095px;">Themeforest</div>
<div class="t b g8" id="av5" style="top:802.00px;font-size:10.9px;right:807.95px;letter-spacing:0.450px;">237</div>
<div class="t b blue" id="ad5" style="top:802.00px;font-size:10.9px;right:768.89px;letter-spacing:0.225px;">106</div>
<div class="t b g8" id="ap5" style="top:802.00px;font-size:10.9px;right:656.90px;letter-spacing:-0.060px;">36.52%</div>
<div class="t b blue" id="aq5" style="top:802.00px;font-size:10.9px;right:605.57px;letter-spacing:-0.010px;">+3.06%</div>
<div class="t s3 g8" id="cti" style="top:542.00px;font-size:12.9px;left:663.45px;letter-spacing:0.116px;">Top Performing Pages</div>
<div class="t m g4" id="csu" style="top:559.00px;font-size:10.4px;left:662.87px;letter-spacing:0.319px;">Counted in Millions</div>
<div class="btn" style="left:1081.4px;top:542.1px;width:73.8px;height:25.4px"></div>
<div class="t m g6" id="cbt" style="top:550.00px;font-size:9.4px;left:1117.34px;transform:translateX(-50%);letter-spacing:-0.205px;">PDF Report</div>
<div class="t m g4" id="ch0" style="top:594.00px;font-size:9.2px;left:662.7px;letter-spacing:-0.051px;">LANDING PAGE</div>
<div class="t m g4" id="ch1" style="top:594.00px;font-size:9.2px;right:168.98px;letter-spacing:-0.030px;">CLICKS</div>
<div class="t m g4" id="ch2" style="top:594.00px;font-size:9.2px;right:44.56px;letter-spacing:-0.062px;">AVG. POSITION</div>
<div class="t b g8" id="cn0" style="top:627.00px;font-size:10.4px;left:662.85px;letter-spacing:0.027px;">Index</div>
<div class="t b g8" id="cv0" style="top:626.00px;font-size:10.9px;right:205.88px;letter-spacing:-0.068px;">1,256</div>
<div class="t b red" id="cd0" style="top:626.00px;font-size:10.9px;right:168.02px;letter-spacing:0.900px;">-935</div>
<div class="t b g8" id="cp0" style="top:626.00px;font-size:10.9px;right:81.47px;letter-spacing:0.333px;">2.63</div>
<div class="t b red" id="cq0" style="top:626.00px;font-size:10.9px;right:44.91px;letter-spacing:0.122px;">-1.35</div>
<svg class="abs" style="left:663.2px;top:648.50px" width="491.8" height="2" viewBox="0 0 491.8 2"><path d="M0 1 H491.8" stroke="#ededf1" stroke-width="0.8" stroke-dasharray="2.3 1.37" fill="none"/></svg>
<div class="t b g8" id="cn1" style="top:663.00px;font-size:10.4px;left:662.9000000000001px;letter-spacing:0.072px;">Products</div>
<div class="t b g8" id="cv1" style="top:662.00px;font-size:10.9px;right:205.00px;letter-spacing:0.600px;">446</div>
<div class="t b red" id="cd1" style="top:662.00px;font-size:10.9px;right:168.45px;letter-spacing:0.522px;">-576</div>
<div class="t b g8" id="cp1" style="top:662.00px;font-size:10.9px;right:82.05px;letter-spacing:-0.053px;">1.45</div>
<div class="t b red" id="cq1" style="top:662.00px;font-size:10.9px;right:44.28px;letter-spacing:0.479px;">0.32</div>
<svg class="abs" style="left:663.2px;top:683.50px" width="491.8" height="2" viewBox="0 0 491.8 2"><path d="M0 1 H491.8" stroke="#ededf1" stroke-width="0.8" stroke-dasharray="2.3 1.37" fill="none"/></svg>
<div class="t b g8" id="cn2" style="top:698.00px;font-size:10.4px;left:663.11px;letter-spacing:0.126px;">devs.keenthemes.com</div>
<div class="t b g8" id="cv2" style="top:697.00px;font-size:10.9px;right:205.05px;letter-spacing:0.500px;">67</div>
<div class="t b blue" id="cd2" style="top:697.00px;font-size:10.9px;right:168.70px;letter-spacing:0.300px;">+24</div>
<div class="t b g8" id="cp2" style="top:697.00px;font-size:10.9px;right:81.97px;letter-spacing:0.030px;">7.63</div>
<div class="t b blue" id="cq2" style="top:697.00px;font-size:10.9px;right:44.76px;letter-spacing:0.246px;">+8.73</div>
<svg class="abs" style="left:663.2px;top:718.50px" width="491.8" height="2" viewBox="0 0 491.8 2"><path d="M0 1 H491.8" stroke="#ededf1" stroke-width="0.8" stroke-dasharray="2.3 1.37" fill="none"/></svg>
<div class="t b g8" id="cn3" style="top:733.00px;font-size:10.4px;left:663.09px;letter-spacing:0.112px;">studio.keenthemes.com</div>
<div class="t b g8" id="cv3" style="top:732.00px;font-size:10.9px;right:205.75px;letter-spacing:-0.131px;">2,136</div>
<div class="t b red" id="cd3" style="top:732.00px;font-size:10.9px;right:168.75px;letter-spacing:0.150px;">-1,229</div>
<div class="t b g8" id="cp3" style="top:732.00px;font-size:10.9px;right:81.58px;letter-spacing:0.184px;">3.67</div>
<div class="t b red" id="cq3" style="top:732.00px;font-size:10.9px;right:44.58px;letter-spacing:0.418px;">-2.29</div>
<svg class="abs" style="left:663.2px;top:754.50px" width="491.8" height="2" viewBox="0 0 491.8 2"><path d="M0 1 H491.8" stroke="#ededf1" stroke-width="0.8" stroke-dasharray="2.3 1.37" fill="none"/></svg>
<div class="t b g8" id="cn4" style="top:768.00px;font-size:10.4px;left:663.12px;letter-spacing:0.100px;">graphics.keenthemes.com</div>
<div class="t b g8" id="cv4" style="top:767.00px;font-size:10.9px;right:204.89px;letter-spacing:0.825px;">945</div>
<div class="t b red" id="cd4" style="top:767.00px;font-size:10.9px;right:168.38px;letter-spacing:0.817px;">-634</div>
<div class="t b g8" id="cp4" style="top:767.00px;font-size:10.9px;right:81.49px;letter-spacing:0.270px;">5.03</div>
<div class="t b red" id="cq4" style="top:767.00px;font-size:10.9px;right:44.58px;letter-spacing:0.505px;">-0.35</div>
<svg class="abs" style="left:663.2px;top:789.50px" width="491.8" height="2" viewBox="0 0 491.8 2"><path d="M0 1 H491.8" stroke="#ededf1" stroke-width="0.8" stroke-dasharray="2.3 1.37" fill="none"/></svg>
<div class="t b g8" id="cn5" style="top:803.00px;font-size:10.4px;left:662.83px;letter-spacing:0.040px;">Licenses</div>
<div class="t b g8" id="cv5" style="top:802.00px;font-size:10.9px;right:205.30px;letter-spacing:0.250px;">237</div>
<div class="t b blue" id="cd5" style="top:802.00px;font-size:10.9px;right:168.68px;letter-spacing:0.325px;">106</div>
<div class="t b g8" id="cp5" style="top:802.00px;font-size:10.9px;right:81.58px;letter-spacing:0.184px;">3.52</div>
<div class="t b blue" id="cq5" style="top:802.00px;font-size:10.9px;right:44.72px;letter-spacing:0.309px;">+3.06</div>
<div class="t s3 g8" id="e1" style="top:892.00px;font-size:12.9px;left:103.26px;letter-spacing:0.104px;">Author Sales</div>
<div class="btn" style="left:521.8px;top:893.3px;width:73px;height:25.4px"></div>
<div class="t s3 g8" id="e2" style="top:886.00px;font-size:12.9px;left:663.4000000000001px;letter-spacing:0.135px;">Top Queries by Clicks</div>
<div class="btn" style="left:1081.4px;top:887.4px;width:73.8px;height:25.4px"></div>
<div class="t g6" id="e3" style="top:896.00px;font-size:9.7px;left:1118.30px;transform:translateX(-50%);">PDF Report</div>
</div>
</body>
</html>
